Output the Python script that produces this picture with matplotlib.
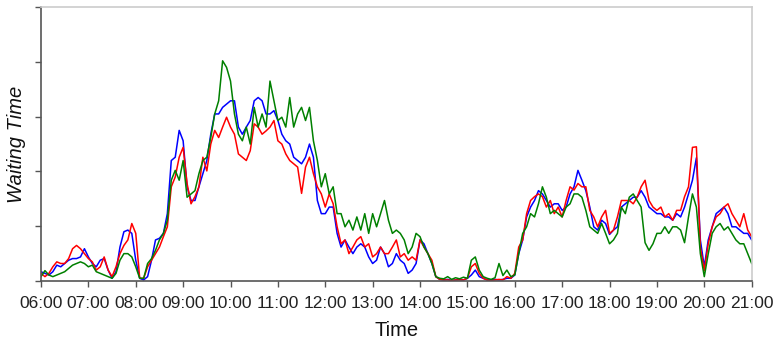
import numpy as np
import matplotlib
matplotlib.use("Agg")
import matplotlib.pyplot as plt

# minutes after 06:00, one reading every 5 minutes
minutes = np.arange(0, 15 * 60 + 1, 5)
hour_labels = ["%02d:00" % h for h in range(6, 22)]

blue = [
    0.17, 0.14, 0.11, 0.17, 0.29, 0.26, 0.32, 0.38, 0.41, 0.41, 0.44, 0.59,   # 06
    0.44, 0.32, 0.26, 0.38, 0.41, 0.20, 0.05, 0.17, 0.62, 0.90, 0.93, 0.87,   # 07
    0.38, 0.05, 0.02, 0.08, 0.38, 0.75, 0.78, 0.87, 1.23, 2.20, 2.26, 2.75,   # 08
    2.56, 1.72, 1.47, 1.47, 1.72, 1.96, 2.20, 2.68, 3.05, 3.05, 3.17, 3.23,   # 09
    3.29, 3.29, 2.81, 2.68, 2.81, 2.93, 3.29, 3.35, 3.29, 3.05, 3.05, 3.11,   # 10
    2.93, 2.68, 2.56, 2.50, 2.26, 2.20, 2.14, 2.26, 2.50, 2.26, 1.47, 1.23,   # 11
    1.23, 1.35, 1.35, 0.87, 0.62, 0.75, 0.62, 0.50, 0.62, 0.68, 0.62, 0.44,   # 12
    0.32, 0.38, 0.62, 0.50, 0.26, 0.32, 0.50, 0.38, 0.32, 0.14, 0.20, 0.32,   # 13
    0.75, 0.68, 0.50, 0.32, 0.08, 0.03, 0.02, 0.03, 0.01, 0.02, 0.03, 0.02,   # 14
    0.05, 0.11, 0.20, 0.08, 0.05, 0.02, 0.02, 0.03, 0.02, 0.03, 0.05, 0.05,   # 15
    0.11, 0.50, 0.75, 1.17, 1.35, 1.47, 1.65, 1.59, 1.47, 1.35, 1.41, 1.41,   # 16
    1.29, 1.35, 1.59, 1.72, 2.02, 1.84, 1.65, 1.35, 0.99, 0.93, 1.11, 1.05,   # 17
    0.85, 0.93, 0.99, 1.35, 1.41, 1.47, 1.53, 1.53, 1.65, 1.53, 1.35, 1.29,   # 18
    1.23, 1.23, 1.17, 1.17, 1.11, 1.23, 1.17, 1.35, 1.59, 1.84, 2.25, 0.75,   # 19
    0.26, 0.75, 0.99, 1.23, 1.29, 1.35, 1.23, 0.99, 0.99, 0.93, 0.87, 0.87,   # 20
    0.75,
]

red = [
    0.14, 0.08, 0.14, 0.26, 0.35, 0.32, 0.32, 0.41, 0.59, 0.65, 0.59, 0.50,
    0.41, 0.35, 0.20, 0.26, 0.44, 0.20, 0.08, 0.26, 0.50, 0.65, 0.75, 1.05,
    0.87, 0.05, 0.05, 0.26, 0.38, 0.50, 0.62, 0.81, 0.99, 1.72, 1.90, 2.26,
    2.44, 1.78, 1.41, 1.54, 1.72, 2.26, 2.01, 2.50, 2.75, 2.62, 2.81, 2.99,
    2.81, 2.68, 2.32, 2.26, 2.20, 2.38, 2.87, 2.81, 2.68, 2.74, 2.81, 2.93,
    2.56, 2.50, 2.32, 2.20, 2.14, 2.08, 1.60, 2.08, 2.26, 1.96, 1.72, 1.59,
    1.35, 1.59, 1.41, 0.99, 0.68, 0.75, 0.50, 0.62, 0.75, 0.81, 0.62, 0.68,
    0.44, 0.50, 0.62, 0.50, 0.50, 0.62, 0.75, 0.44, 0.50, 0.38, 0.44, 0.38,
    0.75, 0.62, 0.50, 0.38, 0.08, 0.03, 0.02, 0.02, 0.01, 0.02, 0.02, 0.02,
    0.05, 0.26, 0.32, 0.14, 0.05, 0.02, 0.01, 0.02, 0.03, 0.02, 0.08, 0.05,
    0.14, 0.62, 0.75, 1.23, 1.47, 1.54, 1.59, 1.54, 1.35, 1.47, 1.23, 1.35,
    1.17, 1.47, 1.72, 1.66, 1.78, 1.72, 1.72, 1.29, 1.17, 0.99, 1.17, 1.29,
    0.87, 0.93, 1.17, 1.47, 1.47, 1.47, 1.41, 1.53, 1.72, 1.84, 1.47, 1.35,
    1.29, 1.35, 1.17, 1.23, 1.11, 1.29, 1.29, 1.54, 1.72, 2.44, 2.45, 0.62,
    0.19, 0.68, 0.99, 1.17, 1.23, 1.35, 1.41, 1.23, 1.11, 0.99, 1.23, 0.93,
    0.81,
]

green = [
    0.08, 0.19, 0.11, 0.08, 0.11, 0.14, 0.17, 0.23, 0.29, 0.32, 0.35, 0.32,
    0.26, 0.29, 0.17, 0.14, 0.11, 0.08, 0.05, 0.14, 0.38, 0.50, 0.50, 0.44,
    0.26, 0.05, 0.05, 0.32, 0.41, 0.56, 0.75, 0.87, 1.11, 1.84, 2.02, 1.84,
    2.20, 1.53, 1.59, 1.65, 1.96, 2.20, 2.26, 2.62, 3.05, 3.29, 4.02, 3.90,
    3.65, 3.05, 2.68, 2.56, 2.81, 2.50, 3.17, 2.81, 3.05, 2.81, 3.65, 3.29,
    2.93, 2.99, 2.81, 3.35, 2.81, 3.05, 3.17, 2.93, 3.17, 2.56, 2.20, 1.72,
    1.96, 1.59, 1.72, 1.23, 1.23, 0.99, 1.11, 0.93, 1.17, 0.93, 1.23, 0.87,
    1.23, 0.99, 1.23, 1.47, 1.11, 0.87, 0.93, 0.87, 0.75, 0.50, 0.62, 0.87,
    0.81, 0.62, 0.50, 0.32, 0.08, 0.05, 0.04, 0.08, 0.03, 0.06, 0.04, 0.07,
    0.05, 0.38, 0.44, 0.20, 0.08, 0.05, 0.03, 0.06, 0.32, 0.10, 0.20, 0.08,
    0.11, 0.50, 0.87, 0.99, 1.23, 1.17, 1.41, 1.72, 1.53, 1.23, 1.29, 1.23,
    1.17, 1.35, 1.41, 1.59, 1.59, 1.53, 1.29, 0.99, 0.93, 0.87, 1.05, 0.87,
    0.68, 0.75, 0.87, 1.35, 1.23, 1.53, 1.59, 1.47, 1.35, 0.70, 0.56, 0.68,
    0.87, 0.87, 0.99, 0.87, 0.99, 0.99, 0.93, 0.70, 1.17, 1.59, 1.35, 0.50,
    0.08, 0.50, 0.87, 0.99, 1.05, 0.93, 0.99, 0.87, 0.75, 0.68, 0.68, 0.50,
    0.32,
]

plt.rcParams['font.family'] = ['Liberation Sans', 'DejaVu Sans']

fig = plt.figure(figsize=(7.75, 3.39), dpi=100)
ax = fig.add_axes([0.0529, 0.171, 0.917, 0.808])

ax.plot(minutes, blue, color='#0000ff', lw=1.1)
ax.plot(minutes, red, color='#ff0000', lw=1.1)
ax.plot(minutes, green, color='#008000', lw=1.1)

ax.set_xlim(0, 15 * 60)
ax.set_ylim(0, 5)
ax.set_xticks(np.arange(0, 15 * 60 + 1, 60))
ax.set_xticklabels(hour_labels, fontsize=12.5, color='#222222')
ax.set_yticks(np.arange(0, 6))
ax.set_yticklabels([])
ax.tick_params(axis='both', direction='out', length=4, width=1, color='#555555')
ax.tick_params(axis='x', pad=7)

for side in ['left', 'bottom']:
    ax.spines[side].set_color('#555555')
    ax.spines[side].set_linewidth(1.2)
for side in ['top', 'right']:
    ax.spines[side].set_color('#cccccc')
    ax.spines[side].set_linewidth(1.2)

ax.set_xlabel("Time", fontsize=14.5, labelpad=7, color='#111111')
ax.set_ylabel("Waiting Time", fontsize=14.5, style='italic', labelpad=3,
              color='#111111')

fig.savefig("out.png", dpi=100)
